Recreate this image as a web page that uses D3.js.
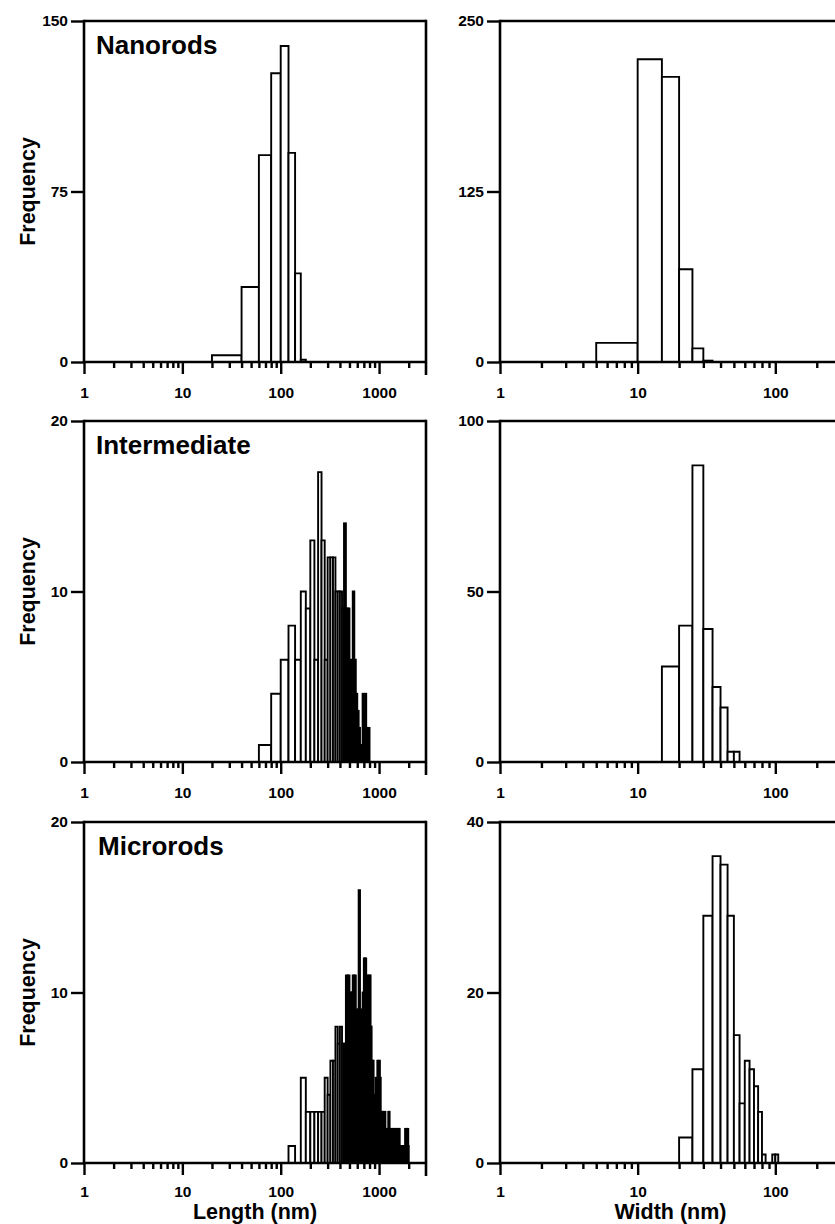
<!DOCTYPE html>
<html><head><meta charset="utf-8">
<script src="https://cdn.jsdelivr.net/npm/d3@7"></script>
<style>
body{margin:0;background:#fff;}
svg{display:block;background:#fff;}
</style></head><body>
<svg id="chart" width="835" height="1224"></svg>
<script>
// ---------------- DATA ----------------
const panelLabels = ["Nanorods", "Intermediate", "Microrods"];
const xTitles = ["Length (nm)", "Width (nm)"];
const yTitle = "Frequency";

// Length histograms: bins of 20 nm starting at 20 nm (20-40, 40-60, ... 1980-2000)
const lengthBinStart = 20, lengthBinWidth = 20;
const nanoLength = [3,33,91,127,139,92,39,1,
  0,0,0,0,0,0,0,0,0,0,0,0,0,0,0,0,0,0,0,0,0,0,0,0,0,0,0,0,0,0,0,0,0,0,0,0,0,0,
  0,0,0,0,0,0,0,0,0,0,0,0,0,0,0,0,0,0,0,0,0,0,0,0,0,0,0,0,0,0,0,0,0,0,0,0,0,0,0,0,0];
const interLength = [0,0,1,4,6,8,6,10,9,13,6,17,13,6,12,12,12,10,10,10,9,14,9,9,6,5,10,6,4,3,2,1,1,4,3,4,2,2,2,
  0,0,0,0,0,0,0,0,0,0,0,0,0,0,0,0,0,0,0,0,0,0,0,0,0,0,0,0,0,0,
  0,0,0,0,0,0,0,0,0,0,0,0,0,0,0,0,0,0,0,0,0,0,0,0,0,0,0,0,0,0];
const microLength = [0,0,0,0,0,1,0,5,3,3,3,3,3,5,4,6,6,8,7,8,7,7,11,11,10,10,11,11,9,9,16,9,9,10,12,12,11,10,11,11,8,6,6,4,3,5,3,6,4,6,5,3,2,3,3,2,3,2,2,1,2,3,3,2,2,1,2,2,2,1,2,2,2,1,2,2,1,2,2,2,1,1,1,1,1,1,1,1,1,1,1,2,2,1,2,2,1,2,1];

// Width histograms: bins of 5 nm starting at 5 nm (5-10, 10-15, ... 245-250)
const widthBinStart = 5, widthBinWidth = 5;
const nanoWidth = [14,222,209,68,10,1,
  0,0,0,0,0,0,0,0,0,0,0,0,0,0,0,0,0,0,0,0,0,0,0,0,0,0,0,0,0,0,0,0,0,0,0,0,0];
const interWidth = [0,0,28,40,87,39,22,16,3,3,
  0,0,0,0,0,0,0,0,0,0,0,0,0,0,0,0,0,0,0,0,0,0,0,0,0,0,0,0,0];
const microWidth = [0,0,0,3,11,29,36,35,29,15,7,12,11,9,6,1,0,0,1,1,
  0,0,0,0,0,0,0,0,0,0,0,0,0,0,0,0,0,0,0,0,0,0,0,0,0,0,0,0,0];

// Axis ticks
const lengthYTicks = [[0, 75, 150], [0, 10, 20], [0, 10, 20]];
const widthYTicks = [[0, 125, 250], [0, 50, 100], [0, 20, 40]];
const lengthMajorTicks = [1, 10, 100, 1000];
const lengthMinorTicks = [2,3,4,5,6,7,8,9,20,30,40,50,60,70,80,90,200,300,400,500,600,700,800,900,2000];
const widthMajorTicks = [1, 10, 100];
const widthMinorTicks = [2,3,4,5,6,7,8,9,20,30,40,50,60,70,80,90,200];
const lengthDomain = [1, 3000];
const widthDomain = [1, 300];

// ---------------- LAYOUT ----------------
const FONT = '"Liberation Sans", Arial, Helvetica, sans-serif';
const svg = d3.select("#chart");
svg.append("rect").attr("width", 835).attr("height", 1224).attr("fill", "#fff");

const rowTops = [21, 421, 822];
const plotH = 341;
const cols = [{x0: 84, x1: 426}, {x0: 500, x1: 841}];

const lengthData = [nanoLength, interLength, microLength];
const widthData = [nanoWidth, interWidth, microWidth];

function drawPanel(opt) {
  const g = svg.append("g");
  const top = opt.top, bottom = opt.top + plotH;
  const x = d3.scaleLog().domain(opt.domain).range([opt.x0, opt.x1]);
  const y = d3.scaleLinear().domain([0, opt.yTicks[opt.yTicks.length - 1]]).range([bottom, top]);

  // bars
  const bars = opt.counts.map((c, i) => {
    const lo = opt.binStart + i * opt.binWidth;
    return {lo: lo, hi: lo + opt.binWidth, c: c};
  });
  g.append("g").selectAll("path").data(bars).join("path")
    .attr("d", d => `M${x(d.lo)},${y(0)}V${y(d.c)}H${x(d.hi)}V${y(0)}Z`)
    .attr("fill", "#fff").attr("stroke", "#000").attr("stroke-width", 1.9)
    .attr("stroke-linejoin", "miter");

  // minor x ticks
  const gxMinor = g.append("g").attr("transform", `translate(0,${bottom})`)
    .call(d3.axisBottom(x).tickValues(opt.minor).tickSize(6).tickFormat(""));
  gxMinor.select(".domain").remove();
  gxMinor.selectAll("line").attr("stroke-width", 2.4);

  // major x ticks
  const gx = g.append("g").attr("transform", `translate(0,${bottom})`)
    .call(d3.axisBottom(x).tickValues(opt.major).tickSize(12).tickPadding(opt.xPad).tickFormat(d3.format("d")));
  gx.select(".domain").remove();
  gx.selectAll("line").attr("stroke-width", 2.4);
  gx.attr("font-family", FONT).attr("font-size", 15.5).attr("font-weight", "bold");

  // y axis
  const gy = g.append("g").attr("transform", `translate(${opt.x0},0)`)
    .call(d3.axisLeft(y).tickValues(opt.yTicks).tickSize(13).tickPadding(3));
  gy.select(".domain").remove();
  gy.selectAll("line").attr("stroke-width", 2.4);
  gy.attr("font-family", FONT).attr("font-size", 15.5).attr("font-weight", "bold");

  // frame lines
  const lw = 2.6;
  g.append("line").attr("x1", opt.x0).attr("x2", opt.x1).attr("y1", bottom).attr("y2", bottom)
    .attr("stroke", "#000").attr("stroke-width", lw);
  g.append("line").attr("x1", opt.x0).attr("x2", opt.x1).attr("y1", top).attr("y2", top)
    .attr("stroke", "#000").attr("stroke-width", lw);
  g.append("line").attr("x1", opt.x0).attr("x2", opt.x0).attr("y1", top - 1.2).attr("y2", bottom + 1.2)
    .attr("stroke", "#000").attr("stroke-width", lw);
  g.append("line").attr("x1", opt.x1).attr("x2", opt.x1).attr("y1", top - 1.2).attr("y2", bottom + 13)
    .attr("stroke", "#000").attr("stroke-width", lw);

  if (opt.label) {
    g.append("text").attr("x", opt.x0 + opt.labelDx).attr("y", top + 33)
      .attr("font-family", FONT).attr("font-weight", "bold").attr("font-size", 26)
      .text(opt.label);
  }
  if (opt.yTitle) {
    g.append("text").attr("transform", `translate(35,${(top + bottom) / 2}) rotate(-90)`)
      .attr("text-anchor", "middle")
      .attr("font-family", FONT).attr("font-weight", "bold").attr("font-size", 21.5)
      .text(opt.yTitle);
  }
  if (opt.xTitle) {
    g.append("text").attr("x", (opt.x0 + opt.x1) / 2).attr("y", 1218.5)
      .attr("text-anchor", "middle")
      .attr("font-family", FONT).attr("font-weight", "bold").attr("font-size", 21.5)
      .text(opt.xTitle);
  }
}

const labelDx = [12, 12, 14];
for (let r = 0; r < 3; r++) {
  const xPad = r === 2 ? 10.5 : 13;
  drawPanel({
    top: rowTops[r], x0: cols[0].x0, x1: cols[0].x1, domain: lengthDomain,
    yTicks: lengthYTicks[r], counts: lengthData[r],
    binStart: lengthBinStart, binWidth: lengthBinWidth,
    major: lengthMajorTicks, minor: lengthMinorTicks, xPad: xPad,
    label: panelLabels[r], labelDx: labelDx[r], yTitle: yTitle,
    xTitle: r === 2 ? xTitles[0] : null
  });
  drawPanel({
    top: rowTops[r], x0: cols[1].x0, x1: cols[1].x1, domain: widthDomain,
    yTicks: widthYTicks[r], counts: widthData[r],
    binStart: widthBinStart, binWidth: widthBinWidth,
    major: widthMajorTicks, minor: widthMinorTicks, xPad: xPad,
    label: null, yTitle: null,
    xTitle: r === 2 ? xTitles[1] : null
  });
}
</script>
</body></html>
